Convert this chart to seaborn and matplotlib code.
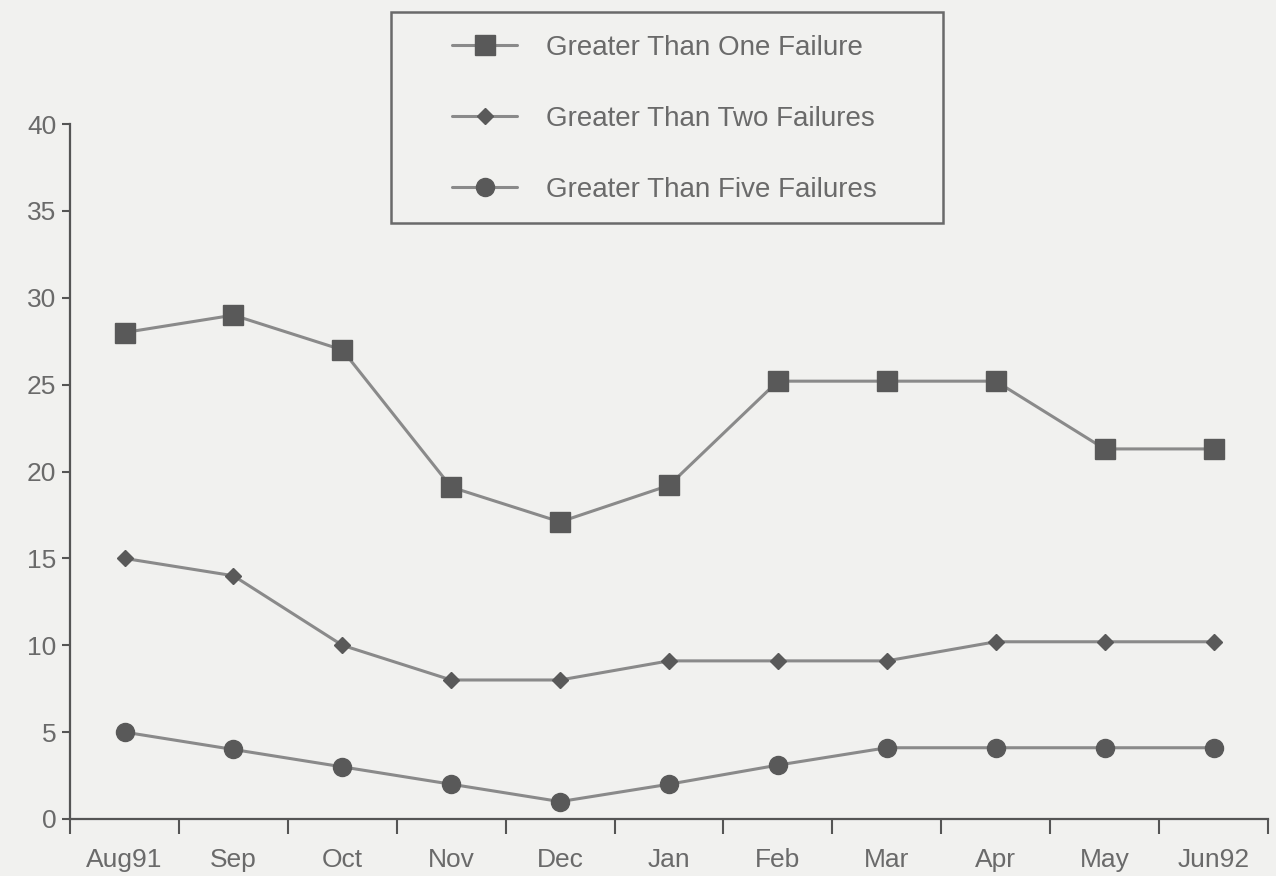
import pandas as pd
import matplotlib.pyplot as plt
import seaborn as sns
from matplotlib.lines import Line2D
from matplotlib.patches import Rectangle

# data
months = ['Aug91', 'Sep', 'Oct', 'Nov', 'Dec', 'Jan', 'Feb', 'Mar', 'Apr', 'May', 'Jun92']
gt_one = [28, 29, 27, 19.1, 17.1, 19.2, 25.2, 25.2, 25.2, 21.3, 21.3]
gt_two = [15, 14, 10, 8, 8, 9.1, 9.1, 9.1, 10.2, 10.2, 10.2]
gt_five = [5, 4, 3, 2, 1, 2, 3.1, 4.1, 4.1, 4.1, 4.1]
y_ticks = [0, 5, 10, 15, 20, 25, 30, 35, 40]

bg = '#f1f1ef'
line_c = '#8a8a8a'
mark_c = '#595959'
text_c = '#6a6a6a'
axis_c = '#555555'

sns.set_style('white')
plt.rcParams['font.family'] = ['Liberation Sans', 'DejaVu Sans']

df = pd.DataFrame({'月': months, 'one': gt_one, 'two': gt_two, 'five': gt_five})

fig = plt.figure(figsize=(12.76, 8.76), dpi=100, facecolor=bg)
ax = fig.add_axes([0.0549, 0.0651, 0.9388, 0.7933])
ax.set_facecolor(bg)

series = [
    ('one', 'Greater Than One Failure', 's', 14),
    ('two', 'Greater Than Two Failures', 'D', 8),
    ('five', 'Greater Than Five Failures', 'o', 13),
]
for col, name, mk, ms in series:
    sns.lineplot(data=df, x='月', y=col, ax=ax, color=line_c, linewidth=2.2,
                 marker=mk, markersize=ms, markerfacecolor=mark_c,
                 markeredgecolor=mark_c, markeredgewidth=1, sort=False)

ax.set_xlim(-0.5, 10.5)
ax.set_ylim(0, 40)
ax.set_yticks(y_ticks)
ax.set_xticks(range(len(months)))
ax.set_xticklabels(months)
ax.set_xticks([i - 0.5 for i in range(len(months) + 1)], minor=True)
ax.tick_params(axis='x', which='major', bottom=True, length=0, pad=21, labelsize=19, labelcolor=text_c)
ax.tick_params(axis='x', which='minor', bottom=True, length=11, width=1.5, color=axis_c, direction='out')
ax.tick_params(axis='y', left=True, length=6, width=1.5, color=axis_c, labelsize=19, labelcolor=text_c, pad=4)
ax.set_xlabel('')
ax.set_ylabel('')
for s in ['top', 'right']:
    ax.spines[s].set_visible(False)
for s in ['left', 'bottom']:
    ax.spines[s].set_color(axis_c)
    ax.spines[s].set_linewidth(1.6)

# legend box drawn separately so the side padding can be wider than the top
fig.patches.append(Rectangle((0.3064, 0.7454), 0.4326, 0.2409, transform=fig.transFigure,
                             facecolor=bg, edgecolor='#6a6a6a', linewidth=1.8, zorder=0))
handles = [Line2D([], [], color=line_c, linewidth=2.2, marker=mk, markersize=ms,
                  markerfacecolor=mark_c, markeredgecolor=mark_c)
           for _, _, mk, ms in series]
labels = [name for _, name, _, _ in series]
fig.legend(handles, labels, loc='upper left', bbox_to_anchor=(0.3542, 0.960),
           frameon=False, fontsize=20, labelcolor=text_c,
           handlelength=2.35, handletextpad=1.05, labelspacing=1.62,
           borderpad=0, borderaxespad=0)

plt.savefig('out.png', dpi=100, facecolor=bg)
